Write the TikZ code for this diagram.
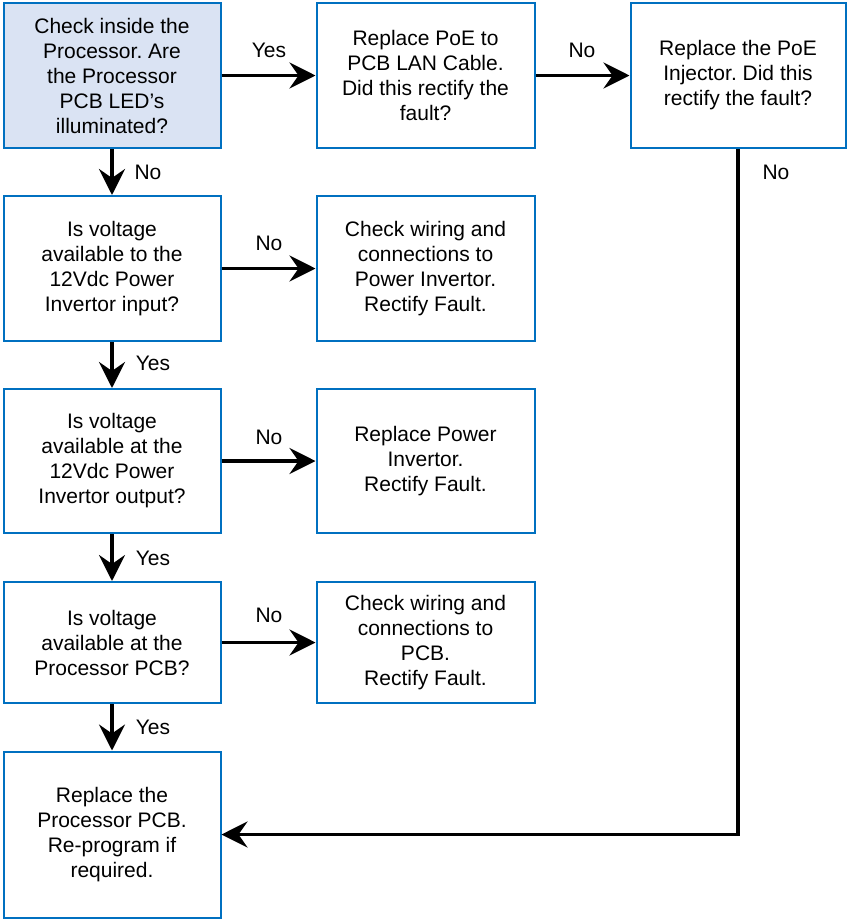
\documentclass[tikz,border=0pt]{standalone}
\usepackage{fontspec}
\setmainfont{Liberation Sans}
\usetikzlibrary{arrows.meta}
\definecolor{bordblue}{HTML}{0070C0}
\definecolor{fillblue}{HTML}{DAE3F3}
\frenchspacing
\begin{document}
\begin{tikzpicture}[x=1pt,y=-1pt,
  box/.style={draw=bordblue, line width=2pt, inner sep=0pt, align=center,
    font=\fontsize{21}{25}\selectfont, text=black, fill=white},
  wbox/.style={box, minimum width=217pt},
  mbox/.style={box, minimum width=218pt},
  arr/.style={line width=3.5pt, -{Stealth[length=26pt,width=26pt,inset=9pt]}},
  lbl/.style={font=\fontsize{21}{24}\selectfont, inner sep=0pt}]
\useasboundingbox (0,0) rectangle (847,919);
\fill[white] (0,0) rectangle (847,919);
% left column
\node[wbox, fill=fillblue, minimum height=145pt] (b1) at (112,75.5)
  {Check inside the\\Processor. Are\\the Processor\\PCB LED’s\\illuminated?};
\node[wbox, minimum height=145pt] (b4) at (112,268.5)
  {Is voltage\\available to the\\12Vdc Power\\Invertor input?};
\node[wbox, minimum height=144pt] (b6) at (112,461)
  {Is voltage\\available at the\\12Vdc Power\\Invertor output?};
\node[wbox, minimum height=121pt] (b8) at (112,642.5)
  {Is voltage\\available at the\\Processor PCB?};
\node[wbox, minimum height=166pt] (b10) at (112,834.5)
  {Replace the\\Processor PCB.\\Re-program if\\required.};
% middle column
\node[mbox, minimum height=145pt] (b2) at (425.5,75.5)
  {Replace PoE to\\PCB LAN Cable.\\Did this rectify the\\fault?};
\node[mbox, minimum height=145pt] (b5) at (425.5,268.5)
  {Check wiring and\\connections to\\Power Invertor.\\Rectify Fault.};
\node[mbox, minimum height=144pt] (b7) at (425.5,461)
  {Replace Power\\Invertor.\\Rectify Fault.};
\node[mbox, minimum height=121pt] (b9) at (425.5,642.5)
  {Check wiring and\\connections to\\PCB.\\Rectify Fault.};
% right column
\node[box, minimum width=215pt, minimum height=145pt] (b3) at (738,75.5)
  {Replace the PoE\\Injector. Did this\\rectify the fault?};
% connectors
\draw[arr] (b1.east) -- (b2.west);
\draw[arr] (b2.east) -- (b3.west);
\draw[arr] (b1.south) -- (b4.north);
\draw[arr] (b4.east) -- (b5.west);
\draw[arr] (b4.south) -- (b6.north);
\draw[arr] (b6.east) -- (b7.west);
\draw[arr] (b6.south) -- (b8.north);
\draw[arr] (b8.east) -- (b9.west);
\draw[arr] (b8.south) -- (b10.north);
\draw[arr] (b3.south) |- (b10.east);
% labels
\node[lbl] (l1) at (269,50) {Yes};
\node[lbl] (l2) at (582,50) {No};
\node[lbl] (l3) at (776,172) {No};
\node[lbl] (l4) at (148,172) {No};
\node[lbl] (l5) at (269,243) {No};
\node[lbl] (l6) at (153,363) {Yes};
\node[lbl] (l7) at (269,437) {No};
\node[lbl] (l8) at (153,558) {Yes};
\node[lbl] (l9) at (269,615) {No};
\node[lbl] (l10) at (153,727) {Yes};
\end{tikzpicture}
\end{document}
